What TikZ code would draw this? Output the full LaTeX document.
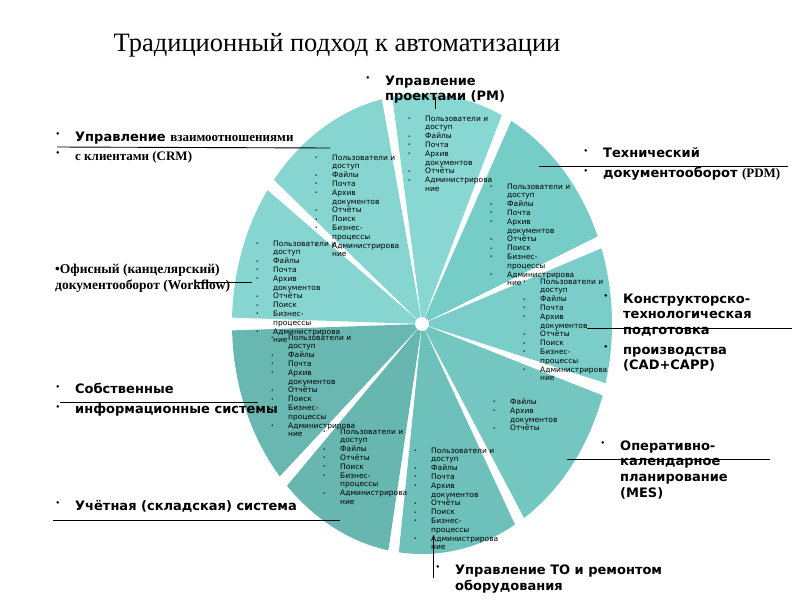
\documentclass[tikz,border=0pt]{standalone}
\usepackage{fontspec}
\usepackage{graphicx}
\setmainfont{Liberation Serif}
\newfontfamily\vsans{DejaVu Sans}
\newfontfamily\lserif{Liberation Serif}

\definecolor{wfC}{HTML}{86D5D0}
\definecolor{crmC}{HTML}{86D5D0}
\definecolor{pmC}{HTML}{88D7D2}
\definecolor{pdmC}{HTML}{76CCC6}
\definecolor{cadC}{HTML}{7ACDC8}
\definecolor{mesC}{HTML}{74C6C0}
\definecolor{toC}{HTML}{6EC0BA}
\definecolor{accC}{HTML}{67B6B0}
\definecolor{ownC}{HTML}{69B7B1}

\newcommand{\smf}{\vsans\fontsize{7.5}{8.8}\selectfont}
\newcommand{\bigf}{\vsans\bfseries\fontsize{13}{15.5}\selectfont}
\newcommand{\serf}{\lserif\bfseries\fontsize{13}{16}\selectfont}
% list bullet and label bullet
\newcommand{\dt}{\llap{\raisebox{0.6pt}{\vsans\fontsize{5}{5}\selectfont •}\hspace{14.5pt}}}
\newcommand{\bdt}{\llap{\raisebox{4.5pt}{\vsans\fontsize{7}{7}\selectfont •}\hspace{15pt}}}

\begin{document}
\begin{tikzpicture}[x=1pt,y=-1pt]
  \tikzset{lst/.style={anchor=north west, align=left, inner sep=0pt, font=\smf}}
  \tikzset{lab/.style={anchor=north west, align=left, inner sep=0pt, font=\bigf}}
  \tikzset{lead/.style={black, line width=0.9pt}}
  \useasboundingbox (0,0) rectangle (800,600);

  \coordinate (ctr) at (422,324);

  % wedges
  \begin{scope}[shift={(ctr)}, x=190pt, y=230pt]
    \fill [wfC] (0,0) -- (144.4:1) arc [start angle=144.4, end angle=178.4, radius=1] -- cycle;
    \fill [crmC] (0,0) -- (102.2:1) arc [start angle=102.2, end angle=141.2, radius=1] -- cycle;
    \fill [pmC] (0,0) -- (65.2:1) arc [start angle=65.2, end angle=99.0, radius=1] -- cycle;
    \fill [pdmC] (0,0) -- (22.4:1) arc [start angle=22.4, end angle=62.0, radius=1] -- cycle;
    \fill [cadC] (0,0) -- (-14.9:1) arc [start angle=-14.9, end angle=19.2, radius=1] -- cycle;
    \fill [mesC] (0,0) -- (-57.5:1) arc [start angle=-57.5, end angle=-18.1, radius=1] -- cycle;
    \fill [toC] (0,0) -- (-97.0:1) arc [start angle=-97.0, end angle=-60.7, radius=1] -- cycle;
    \fill [accC] (0,0) -- (-135.3:1) arc [start angle=-135.3, end angle=-100.2, radius=1] -- cycle;
    \fill [ownC] (0,0) -- (-178.4:1) arc [start angle=-178.4, end angle=-138.5, radius=1] -- cycle;
  \end{scope}
  \fill [white] (ctr) circle (7pt);

  % lists inside the wedges
  \node [lst] (crmList) at (332,154.5) {\dt Пользователи и\\доступ\\\dt Файлы\\\dt Почта\\\dt Архив\\документов\\\dt Отчёты\\\dt Поиск\\\dt Бизнес-\\процессы\\\dt Администрирова\\ние};
  \node [lst] (pmList) at (425,115.5) {\dt Пользователи и\\доступ\\\dt Файлы\\\dt Почта\\\dt Архив\\документов\\\dt Отчёты\\\dt Администрирова\\ние};
  \node [lst] (pdmList) at (507,183.5) {\dt Пользователи и\\доступ\\\dt Файлы\\\dt Почта\\\dt Архив\\документов\\\dt Отчёты\\\dt Поиск\\\dt Бизнес-\\процессы\\\dt Администрирова\\ние};
  \node [lst] (wfList) at (273,240.5) {\dt Пользователи и\\доступ\\\dt Файлы\\\dt Почта\\\dt Архив\\документов\\\dt Отчёты\\\dt Поиск\\\dt Бизнес-\\процессы\\\dt Администрирова\\ние};
  \node [lst] (cadList) at (540,278.5) {\dt Пользователи и\\доступ\\\dt Файлы\\\dt Почта\\\dt Архив\\документов\\\dt Отчёты\\\dt Поиск\\\dt Бизнес-\\процессы\\\dt Администрирова\\ние};
  \node [lst] (ownList) at (288,334.5) {\dt Пользователи и\\доступ\\\dt Файлы\\\dt Почта\\\dt Архив\\документов\\\dt Отчёты\\\dt Поиск\\\dt Бизнес-\\процессы\\\dt Администрирова\\ние};
  \node [lst] (mesList) at (510,398.5) {\dt Файлы\\\dt Архив\\документов\\\dt Отчёты};
  \node [lst] (accList) at (340,428.5) {\dt Пользователи и\\доступ\\\dt Файлы\\\dt Отчёты\\\dt Поиск\\\dt Бизнес-\\процессы\\\dt Администрирова\\ние};
  \node [lst] (toList) at (431,447.5) {\dt Пользователи и\\доступ\\\dt Файлы\\\dt Почта\\\dt Архив\\документов\\\dt Отчёты\\\dt Поиск\\\dt Бизнес-\\процессы\\\dt Администрирова\\ние};

  % title and labels
  \node [anchor=base, inner sep=0pt, font=\lserif\fontsize{26.5}{30}\selectfont] (title) at (337,51) {Традиционный подход к автоматизации};
  \node [lab] (pmLab) at (385,75.5) {\bdt Управление\\проектами (PM)};
  \node [lab, font=\vsans\bfseries\fontsize{13}{19}\selectfont] (crmLab) at (75,131.5) {\bdt Управление {\serf взаимоотношениями}\\\bdt {\serf с клиентами (CRM)}};
  \node [lab, font=\lserif\bfseries\fontsize{13.5}{16}\selectfont] (wfLab) at (55,263.7) {•Офисный (канцелярский)\\документооборот (Workflow)};
  \node [lab, font=\vsans\bfseries\fontsize{13}{20}\selectfont] (pdmLab) at (603,147.5) {\bdt Технический\\\bdt документооборот {\serf (PDM)}};
  \node [lab] (cadLab) at (623,293.5) {\bdt Конструкторско-\\технологическая\\подготовка\\[4.5pt]\bdt производства\\(CAD+CAPP)};
  \node [lab, font=\vsans\bfseries\fontsize{13}{15.7}\selectfont] (mesLab) at (620,440.3) {\bdt Оперативно-\\календарное\\планирование\\(MES)};
  \node [lab, font=\vsans\bfseries\fontsize{13}{20}\selectfont] (ownLab) at (75,383) {\bdt Собственные\\\bdt информационные системы};
  \node [lab, anchor=base west] (accLab) at (75,510) {\bdt Учётная (складская) система};
  \node [lab, font=\vsans\bfseries\fontsize{13}{16}\selectfont] (toLab) at (455,564.5) {\bdt Управление ТО и ремонтом\\оборудования};

  % leader lines
  \coordinate (pmA) at (435,97);    \coordinate (pmB) at (435,109);
  \coordinate (crmA) at (57,147);   \coordinate (crmB) at (330,148);
  \coordinate (wfA) at (195,282);   \coordinate (wfB) at (252,282);
  \coordinate (pdmA) at (539,166);  \coordinate (pdmB) at (788,166);
  \coordinate (cadA) at (587,328);  \coordinate (cadB) at (792,328);
  \coordinate (mesA) at (567,459);  \coordinate (mesB) at (770,459);
  \coordinate (ownA) at (60,402);   \coordinate (ownB) at (258,402);
  \coordinate (accA) at (53,520);   \coordinate (accB) at (340,520);
  \coordinate (toA) at (433,535);   \coordinate (toB) at (433,578);
  \draw [lead] (pmA) -- (pmB);
  \draw [lead] (crmA) -- (crmB);
  \draw [lead] (wfA) -- (wfB);
  \draw [lead] (pdmA) -- (pdmB);
  \draw [lead] (cadA) -- (cadB);
  \draw [lead] (mesA) -- (mesB);
  \draw [lead] (ownA) -- (ownB);
  \draw [lead] (accA) -- (accB);
  \draw [lead] (toA) -- (toB);
\end{tikzpicture}
\end{document}
